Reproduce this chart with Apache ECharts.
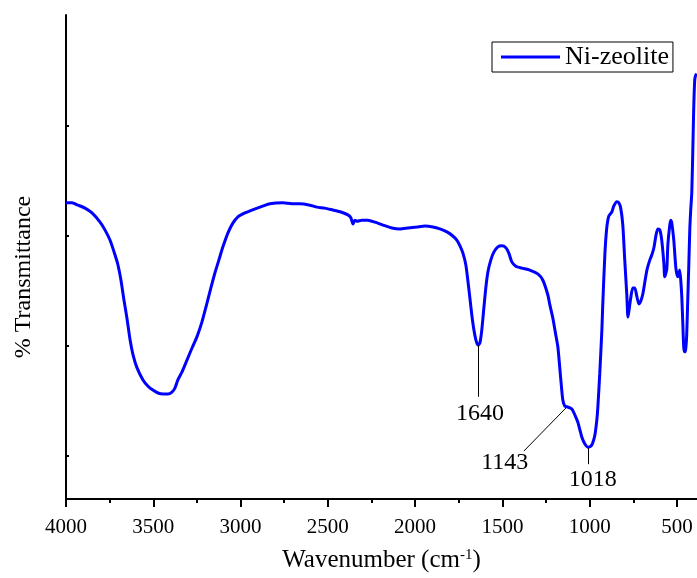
<!DOCTYPE html>
<html>
<head>
<meta charset="utf-8">
<script src="https://cdn.jsdelivr.net/npm/echarts@6/dist/echarts.min.js"></script>
<style>
html,body{margin:0;padding:0;background:#fff;}
#chart{width:697px;height:578px;}
</style>
</head>
<body>
<div id="chart"></div>
<script>
// ---- data ----
const seriesName = 'Ni-zeolite';
const wavenumbers = [4000,3966,3931,3891,3851,3805,3777,3748,3719,3702,3685,3668,3651,3633,3616,3593,3559,3530,3502,3473,3444,3416,3393,3376,3359,3336,3307,3278,3250,3221,3192,3170,3147,3124,3101,3072,3044,3015,2975,2935,2889,2832,2757,2706,2660,2603,2562,2517,2471,2425,2385,2368,2356,2345,2333,2305,2270,2230,2184,2133,2087,2041,1990,1944,1898,1858,1818,1789,1761,1743,1726,1709,1698,1686,1675,1663,1652,1640,1629,1618,1606,1595,1583,1566,1549,1526,1503,1480,1463,1446,1423,1389,1343,1297,1268,1239,1228,1211,1194,1182,1165,1154,1142,1125,1102,1085,1068,1056,1045,1028,1010,993,982,970,959,953,942,930,925,913,902,890,873,862,844,833,822,810,799,787,781,776,764,753,741,730,718,707,695,684,672,655,644,632,621,610,598,587,575,570,558,552,541,535,530,518,506,495,489,484,478,472,466,461,455,449,444,438,432,426,421,415,409,404,398,392,386];
const transmittance = [61.2,61.2,60.7,60.1,59.1,57.2,55.6,53.5,50.4,48.3,45.2,41.1,37.4,32.9,29.8,27.1,24.6,23.3,22.5,21.9,21.7,21.7,22.1,22.9,24.6,26.2,28.7,31.2,33.5,36.6,40.5,43.6,46.7,49.4,52.1,55.0,57.0,58.3,59.1,59.7,60.3,61.0,61.2,61.0,61.0,60.7,60.3,60.1,59.7,59.3,58.7,58.1,56.8,57.6,57.4,57.6,57.6,57.2,56.6,56.0,55.8,56.0,56.2,56.4,56.2,55.8,55.2,54.5,53.5,52.3,50.8,48.3,45.2,41.5,38.0,34.9,32.9,31.8,32.2,34.9,39.5,43.6,46.9,49.4,51.0,52.1,52.3,51.9,50.8,49.0,48.1,47.7,47.3,46.5,45.2,42.1,40.1,37.4,33.9,31.4,24.6,20.5,19.2,19.0,18.6,17.4,15.9,14.3,12.8,11.4,10.7,10.9,11.6,13.2,16.3,19.0,26.0,34.9,40.1,50.4,56.0,58.5,59.3,60.5,61.4,61.2,60.1,56.6,49.4,42.1,37.6,38.6,41.7,43.6,43.6,41.9,40.3,40.9,42.4,44.8,47.3,49.4,50.4,51.9,54.3,55.8,55.6,53.5,48.8,45.9,47.5,52.5,56.6,57.6,57.2,53.5,47.7,45.9,46.5,47.3,45.2,41.7,36.0,31.4,30.4,31.2,33.9,41.1,48.3,56.0,59.7,63.2,72.1,80.4,86.6,87.6,87.8];

const xMajorTicks = [4000,3500,3000,2500,2000,1500,1000,500];
const xMinorTicks = [3750,3250,2750,2250,1750,1250,750];
const yTicks = [8.9,31.6,54.3,77.1];

const annoLabels = ['1640','1143','1018'];
const annoLineStart = [[1640,31.8],[1136,18.8],[1010,10.5]];
const annoLineEnd = [[1640,21.1],[1377,9.9],[1010,7.2]];
const annoTextPos = [[1628,17.6],[1486,7.4],[982,4.0]];

const xTitle = 'Wavenumber (cm{sup|-1})';
const yTitle = '% Transmittance';

// ---- chart ----
const font = 'Liberation Serif, Times New Roman, serif';
const chart = echarts.init(document.getElementById('chart'), null, {renderer:'canvas'});
const seriesData = wavenumbers.map((w,i)=>[w, transmittance[i]]);

const option = {
  animation: false,
  backgroundColor: '#fff',
  grid: {left: 66, right: 0, top: 15, bottom: 79, containLabel: false},
  legend: {
    data: [{name: seriesName, icon: 'rect'}],
    left: 492, top: 42,
    itemWidth: 59, itemHeight: 3,
    padding: [2, 4, 2, 9],
    borderColor: '#000', borderWidth: 1,
    itemStyle: {color: '#0000FF'},
    textStyle: {fontSize: 26, fontFamily: font, color: '#000'}
  },
  xAxis: [{
    type: 'value', inverse: true, min: 385, max: 4000,
    position: 'bottom',
    axisLine: {show: true, lineStyle: {color: '#000', width: 2}},
    axisTick: {show: true, inside: false, length: 8, customValues: xMajorTicks, lineStyle: {color: '#000', width: 2}},
    axisLabel: {show: true, customValues: xMajorTicks, formatter: v => String(v), fontSize: 21, fontFamily: font, color: '#000', margin: 18},
    splitLine: {show: false},
    name: xTitle, nameLocation: 'middle', nameGap: 49,
    nameTextStyle: {fontSize: 25, fontFamily: font, color: '#000',
      rich: {sup: {fontSize: 15, fontFamily: font, color: '#000', verticalAlign: 'top', padding: [0,0,8,0]}}}
  }, {
    type: 'value', inverse: true, min: 385, max: 4000,
    position: 'bottom', offset: 0,
    axisLine: {show: false},
    axisTick: {show: true, inside: false, length: 4, customValues: xMinorTicks, lineStyle: {color: '#000', width: 2}},
    axisLabel: {show: false},
    splitLine: {show: false}
  }],
  yAxis: {
    type: 'value', min: 0, max: 100,
    axisLine: {show: true, lineStyle: {color: '#000', width: 2}},
    axisTick: {show: true, inside: true, length: 3, customValues: yTicks, lineStyle: {color: '#000', width: 2}},
    axisLabel: {show: false},
    splitLine: {show: false},
    name: yTitle, nameLocation: 'middle', nameGap: 30, nameRotate: 90,
    nameTextStyle: {fontSize: 24, fontFamily: font, color: '#000', padding: [0, 40, 0, 0]}
  },
  series: [{
    name: seriesName,
    type: 'line',
    xAxisIndex: 0,
    data: seriesData,
    symbol: 'none',
    smooth: 0.2,
    lineStyle: {color: '#0000FF', width: 3},
    itemStyle: {color: '#0000FF'},
    markLine: {
      silent: true, symbol: ['none','none'],
      lineStyle: {color: '#000', width: 1, type: 'solid'},
      label: {show: false},
      data: annoLineStart.map((s,i)=>[{coord: s}, {coord: annoLineEnd[i]}])
    },
    markPoint: {
      silent: true, symbol: 'circle', symbolSize: 1,
      itemStyle: {color: 'rgba(0,0,0,0)'},
      label: {show: true, position: 'inside', formatter: '{b}', fontSize: 24, fontFamily: font, color: '#000'},
      data: annoLabels.map((t,i)=>({name: t, coord: annoTextPos[i]}))
    }
  }]
};
chart.setOption(option);
</script>
</body>
</html>
